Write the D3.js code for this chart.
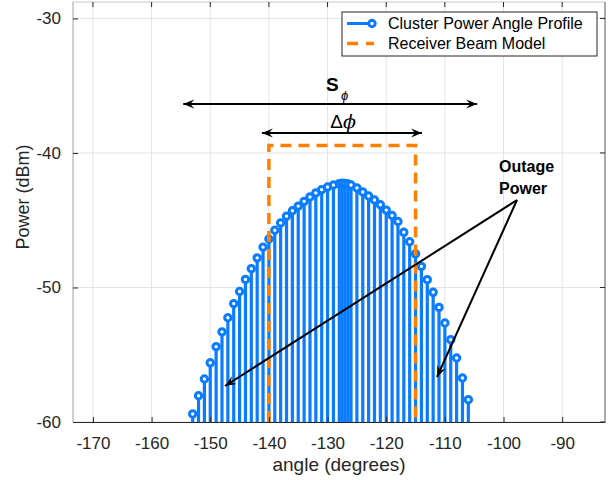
<!DOCTYPE html>
<html>
<head>
<meta charset="utf-8">
<script src="https://cdn.jsdelivr.net/npm/d3@7"></script>
<style>
  body { margin: 0; background: #fff; }
  text { font-family: "Liberation Sans", Arial, Helvetica, sans-serif; }
</style>
</head>
<body>
<svg id="chart" width="613" height="480"></svg>
<script>
// cluster power angle profile (stems)
const angles = [-153, -152, -151, -150, -149, -148, -147, -146, -145, -144, -143, -142, -141, -140,
  -139, -138, -137, -136, -135, -134, -133, -132, -131, -130, -129, -128, -127.5, -127, -126.5, -126,
  -125, -124, -123, -122, -121, -120, -119, -118, -117, -116, -115, -114, -113, -112, -111, -110,
  -109, -108, -107, -106];
const power = [-59.4, -58.05, -56.8, -55.6, -54.4, -53.3, -52.25, -51.2, -50.3, -49.4, -48.6, -47.8, -47.0, -46.4,
  -45.75, -45.2, -44.7, -44.3, -43.95, -43.6, -43.27, -42.97, -42.73, -42.53, -42.38, -42.28, -42.25, -42.27, -42.3, -42.38,
  -42.6, -42.9, -43.2, -43.5, -43.85, -44.25, -44.65, -45.1, -45.9, -46.6, -47.5, -48.43, -49.42, -50.36, -51.48, -52.64,
  -53.88, -55.24, -56.73, -58.34];

// receiver beam model (dashed rectangle)
const beamAngles = [-140, -140, -115, -115];
const beamPower = [-60, -39.45, -39.45, -60];

const xTicks = [-170, -160, -150, -140, -130, -120, -110, -100, -90];
const yTicks = [-60, -50, -40, -30];
const legendLabels = ["Cluster Power Angle Profile", "Receiver Beam Model"];

const blue = "#0a7cff";
const orange = "#ff8000";

const svg = d3.select("#chart");
const x = d3.scaleLinear().domain([-173.4, -82.7]).range([73, 605]);
const y = d3.scaleLinear().domain([-60, -28.78]).range([422, 2]);

const defs = svg.append("defs");
defs.append("marker")
  .attr("id", "head")
  .attr("viewBox", "-12 -5 13 10")
  .attr("refX", 0).attr("refY", 0)
  .attr("markerWidth", 13).attr("markerHeight", 10)
  .attr("markerUnits", "userSpaceOnUse")
  .attr("orient", "auto-start-reverse")
  .append("path")
  .attr("d", "M0,0 L-11,-4.5 L-7,0 L-11,4.5 Z")
  .attr("fill", "#000");

// grid
const grid = svg.append("g").attr("stroke", "#e3e3e3").attr("stroke-width", 1);
grid.selectAll("line.gx").data(xTicks).join("line")
  .attr("x1", d => x(d)).attr("x2", d => x(d))
  .attr("y1", y.range()[1]).attr("y2", y.range()[0]);
grid.selectAll("line.gy").data(yTicks).join("line")
  .attr("x1", x.range()[0]).attr("x2", x.range()[1])
  .attr("y1", d => y(d)).attr("y2", d => y(d));

// stems
const pts = angles.map((a, i) => ({a: a, p: power[i]}));
svg.append("g").selectAll("line").data(pts).join("line")
  .attr("x1", d => x(d.a)).attr("x2", d => x(d.a))
  .attr("y1", y(-60)).attr("y2", d => y(d.p))
  .attr("stroke", blue).attr("stroke-width", 3.2);
svg.append("g").selectAll("circle").data(pts).join("circle")
  .attr("cx", d => x(d.a)).attr("cy", d => y(d.p)).attr("r", 3.2)
  .attr("fill", "#fff").attr("stroke", blue).attr("stroke-width", 3);

// beam model
const beamLine = d3.line().x(d => x(d[0])).y(d => y(d[1]));
svg.append("path")
  .datum(beamAngles.map((a, i) => [a, beamPower[i]]))
  .attr("d", beamLine)
  .attr("fill", "none").attr("stroke", orange).attr("stroke-width", 3.5)
  .attr("stroke-dasharray", "11 7");

// axes box
const [x0, x1] = x.range();
const [yb, yt] = y.range();
svg.append("line").attr("x1", x0).attr("x2", x1).attr("y1", yt).attr("y2", yt).attr("stroke", "#c8c8c8");
svg.append("line").attr("x1", x1).attr("x2", x1).attr("y1", yt).attr("y2", yb).attr("stroke", "#555");
svg.append("line").attr("x1", x0).attr("x2", x0).attr("y1", yt).attr("y2", yb).attr("stroke", "#a0a0a0");

const xAxis = svg.append("g").attr("transform", `translate(0,${yb})`)
  .call(d3.axisBottom(x).tickValues(xTicks).tickFormat(d => String(d))
    .tickSizeInner(-5).tickSizeOuter(0).tickPadding(15));
xAxis.select(".domain").attr("stroke", "#262626");
xAxis.selectAll(".tick line").attr("stroke", "#262626");
xAxis.selectAll("text").attr("font-size", 17).attr("fill", "#262626")
  .attr("font-family", "Liberation Sans, Arial, sans-serif");

const yAxis = svg.append("g").attr("transform", `translate(${x0},0)`)
  .call(d3.axisLeft(y).tickValues(yTicks).tickFormat(d => String(d))
    .tickSizeInner(-5).tickSizeOuter(0).tickPadding(12));
yAxis.select(".domain").remove();
yAxis.selectAll(".tick line").attr("stroke", "#262626");
yAxis.selectAll("text").attr("font-size", 17).attr("fill", "#262626")
  .attr("font-family", "Liberation Sans, Arial, sans-serif");

// top and right ticks
svg.append("g").selectAll("line").data(xTicks).join("line")
  .attr("x1", d => x(d)).attr("x2", d => x(d)).attr("y1", yt).attr("y2", yt + 5)
  .attr("stroke", "#262626");
svg.append("g").selectAll("line").data(yTicks).join("line")
  .attr("x1", x1 - 5).attr("x2", x1).attr("y1", d => y(d)).attr("y2", d => y(d))
  .attr("stroke", "#262626");

// axis titles
svg.append("text").attr("x", (x0 + x1) / 2).attr("y", 471)
  .attr("text-anchor", "middle").attr("font-size", 19).attr("fill", "#262626")
  .text("angle (degrees)");
svg.append("text").attr("transform", "translate(29,197) rotate(-90)")
  .attr("text-anchor", "middle").attr("font-size", 18).attr("fill", "#262626")
  .text("Power (dBm)");

// annotations
const arrow = (xa, ya, xb, yb2, both) => {
  const l = svg.append("line").attr("x1", xa).attr("y1", ya).attr("x2", xb).attr("y2", yb2)
    .attr("stroke", "#000").attr("stroke-width", 2).attr("marker-end", "url(#head)");
  if (both) l.attr("marker-start", "url(#head)");
};
arrow(x(-154.6), 104, x(-104.5), 104, true);
arrow(x(-141.2), 133, x(-113.9), 133, true);
arrow(517, 200, 225, 386, false);
arrow(517, 200, 437, 377, false);

svg.append("text").attr("x", 326).attr("y", 91).attr("font-size", 19).attr("font-weight", "bold")
  .text("S");
svg.append("text").attr("x", 341).attr("y", 100).attr("font-size", 13).attr("font-style", "italic")
  .attr("font-family", "DejaVu Serif, serif").text("\u03d5");
const dphi = svg.append("text").attr("x", 343).attr("y", 128).attr("text-anchor", "middle")
  .attr("font-size", 19);
dphi.append("tspan").text("\u0394");
dphi.append("tspan").attr("font-style", "italic").attr("font-family", "DejaVu Serif, serif").text("\u03d5");

svg.append("text").attr("x", 499).attr("y", 172).attr("font-size", 16).attr("font-weight", "bold")
  .text("Outage");
svg.append("text").attr("x", 499).attr("y", 194).attr("font-size", 16).attr("font-weight", "bold")
  .text("Power");

// legend
const lg = svg.append("g");
lg.append("rect").attr("x", 342).attr("y", 12).attr("width", 255).attr("height", 44)
  .attr("fill", "#fff").attr("stroke", "#262626").attr("stroke-width", 1);
lg.append("line").attr("x1", 347).attr("x2", 372).attr("y1", 23.5).attr("y2", 23.5)
  .attr("stroke", blue).attr("stroke-width", 3);
lg.append("circle").attr("cx", 372).attr("cy", 23.5).attr("r", 3.2)
  .attr("fill", "#fff").attr("stroke", blue).attr("stroke-width", 3);
lg.append("line").attr("x1", 347).attr("x2", 374).attr("y1", 43.5).attr("y2", 43.5)
  .attr("stroke", orange).attr("stroke-width", 3.5).attr("stroke-dasharray", "11 8");
lg.selectAll("text.lab").data(legendLabels).join("text")
  .attr("x", 388).attr("y", (d, i) => 29 + i * 20)
  .attr("font-size", 16).attr("fill", "#000")
  .text(d => d);
</script>
</body>
</html>
